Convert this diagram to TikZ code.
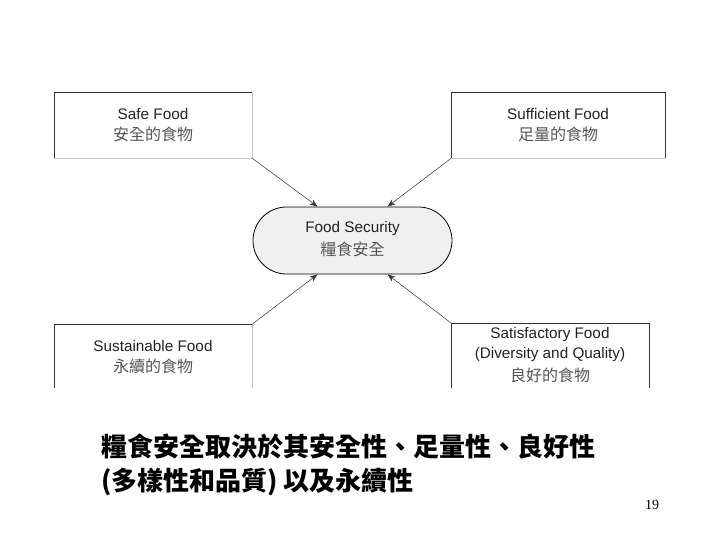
\documentclass[tikz,border=0pt]{standalone}
\usepackage{fontspec}
\setmainfont{Liberation Sans}
\newfontfamily\cjk{Noto Sans CJK TC}
\newfontfamily\numfont{Liberation Serif}
\usetikzlibrary{shapes.misc,arrows.meta,calc}
\definecolor{dk}{HTML}{333333}
\definecolor{lt}{HTML}{C4C4C4}
\definecolor{txt}{HTML}{222222}
\definecolor{cjkt}{HTML}{555555}
\definecolor{secfill}{HTML}{F0F0F0}
\begin{document}
\begin{tikzpicture}[x=1pt,y=-1pt,
  lbl/.style={font=\fontsize{15.3}{18}\selectfont, text=txt, align=center, inner sep=0pt},
  zh/.style={font=\cjk\fontsize{16}{18}\selectfont, text=cjkt, inner sep=0pt},
  boxarea/.style={draw=none, inner sep=0pt, minimum width=#1},
  conn/.style={draw=dk, line width=0.5pt, -{Stealth[length=8pt,width=6pt]}}]
\useasboundingbox (0,0) rectangle (720,540);
% box areas (named nodes)
\node[boxarea=198, minimum height=66, anchor=north west] (safe) at (54,92) {};
\node[boxarea=214, minimum height=66, anchor=north west] (suff) at (451,92) {};
\node[boxarea=198, minimum height=64, anchor=north west] (sust) at (54,324) {};
\node[boxarea=198, minimum height=65, anchor=north west] (sat) at (451,323) {};
% borders: Safe Food
\draw[dk, line width=0.9pt] (safe.south west) -- (safe.north west) -- (safe.north east);
\draw[lt, line width=0.9pt] (safe.north east) -- (safe.south east) -- (safe.south west);
% Sufficient Food
\draw[dk, line width=0.9pt] (suff.south west) -- (suff.north west) -- (suff.north east) -- (suff.south east);
\draw[lt, line width=0.9pt] (suff.south east) -- (suff.south west);
% Sustainable Food (bottom cut)
\draw[dk, line width=0.9pt] (sust.south west) -- (sust.north west) -- (sust.north east);
\draw[lt, line width=0.9pt] (sust.north east) -- (sust.south east);
% Satisfactory Food (bottom cut)
\draw[dk, line width=0.9pt] (sat.south west) -- (sat.north west) -- (sat.north east) -- (sat.south east);
% labels
\node[lbl] (t1) at (153,114) {Safe Food};
\node[zh] (c1) at (153,134) {安全的食物};
\node[lbl] (t2) at (558,114) {Sufficient Food};
\node[zh] (c2) at (558,134) {足量的食物};
\node[lbl] (t3) at (153,346) {Sustainable Food};
\node[zh] (c3) at (153,366) {永續的食物};
\node[lbl] (t4) at (550,335) {Satisfactory Food};
\node[lbl] (t4b) at (550,355) {(Diversity and Quality)};
\node[zh] (c4) at (550,375) {良好的食物};
% center stadium
\node[rounded rectangle, draw=black, line width=0.8pt, fill=secfill,
      minimum width=199, minimum height=67, inner sep=0pt] (sec) at (352.5,240.5) {};
\node[lbl] (st) at (352.5,229) {Food Security};
\node[zh] (sc) at (352.5,249) {糧食安全};
% anchor points on the stadium
\coordinate (p1) at ($(sec.north)+(-35,0)$);
\coordinate (p2) at ($(sec.north)+(35,0)$);
\coordinate (p3) at ($(sec.south)+(-35,0)$);
\coordinate (p4) at ($(sec.south)+(35,0)$);
\draw[conn] (safe.south east) -- (p1);
\draw[conn] (suff.south west) -- (p2);
\draw[conn] (sust.north east) -- (p3);
\draw[conn] (sat.north west) -- (p4);
% caption
\node[font=\cjk\bfseries\fontsize{26}{30}\selectfont, anchor=west, inner sep=0pt] (cap1) at (101,447) {糧食安全取決於其安全性、足量性、良好性};
\node[font=\cjk\bfseries\fontsize{26}{30}\selectfont, anchor=west, inner sep=0pt] (cap2) at (101,482) {(多樣性和品質) 以及永續性};
\node[font=\numfont\fontsize{14}{16}\selectfont, inner sep=0pt] (pg) at (652,505) {19};
\end{tikzpicture}
\end{document}
